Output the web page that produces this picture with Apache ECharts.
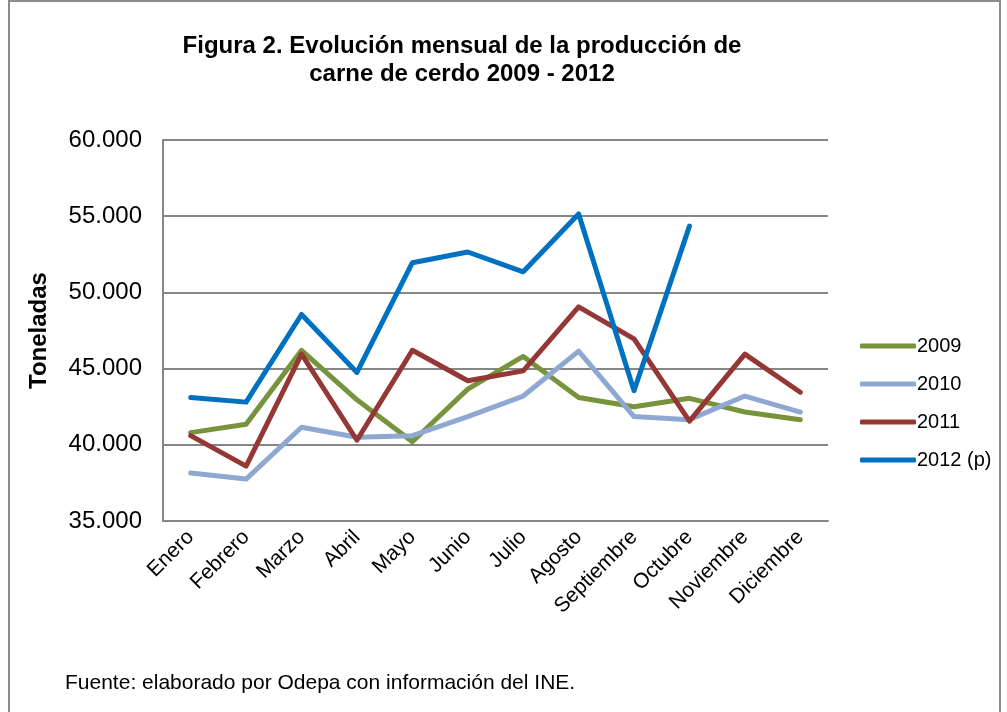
<!DOCTYPE html>
<html>
<head>
<meta charset="utf-8">
<script src="https://cdn.jsdelivr.net/npm/echarts@6/dist/echarts.min.js"></script>
<style>
  html, body { margin: 0; padding: 0; background: #fff; }
  #chart { width: 1007px; height: 712px; }
</style>
</head>
<body>
<div id="chart"></div>
<script>
const months = ['Enero', 'Febrero', 'Marzo', 'Abril', 'Mayo', 'Junio', 'Julio', 'Agosto', 'Septiembre', 'Octubre', 'Noviembre', 'Diciembre'];
const y2009 = [40800, 41350, 46200, 42950, 40200, 43650, 45800, 43100, 42500, 43050, 42150, 41650];
const y2010 = [38150, 37750, 41150, 40500, 40600, 41850, 43200, 46150, 41850, 41650, 43200, 42150];
const y2011 = [40600, 38600, 45950, 40300, 46200, 44200, 44850, 49050, 46950, 41550, 45950, 43450];
const y2012 = [43100, 42800, 48550, 44750, 51950, 52650, 51350, 55150, 43550, 54350, null, null];
const yTicks = [35000, 40000, 45000, 50000, 55000, 60000];

const font = '"Liberation Sans", Arial, sans-serif';

function fmt(v) {
  return String(v).replace(/\B(?=(\d{3})+(?!\d))/g, '.');
}

function line(name, data, color) {
  return {
    name: name,
    type: 'line',
    data: data,
    symbol: 'none',
    connectNulls: false,
    lineStyle: { color: color, width: 5, join: 'round', cap: 'round' },
    itemStyle: { color: color }
  };
}

const chart = echarts.init(document.getElementById('chart'));
chart.setOption({
  animation: false,
  backgroundColor: '#fff',
  textStyle: { fontFamily: font },
  title: {
    text: 'Figura 2. Evolución mensual de la producción de\ncarne de cerdo 2009 - 2012',
    left: 457,
    textAlign: 'center',
    top: 27,
    textStyle: { fontSize: 24, fontWeight: 'bold', color: '#000', lineHeight: 28, fontFamily: font }
  },
  legend: {
    orient: 'vertical',
    left: 855,
    top: 331,
    itemGap: 18,
    itemWidth: 56,
    itemHeight: 5,
    icon: 'roundRect',
    data: ['2009', '2010', '2011', '2012 (p)'],
    textStyle: { fontSize: 20, color: '#000', padding: [0, 0, 0, -4], fontFamily: font }
  },
  grid: { left: 163, right: 179, top: 140, bottom: 191, containLabel: false },
  xAxis: {
    type: 'category',
    data: months,
    boundaryGap: true,
    axisLine: { lineStyle: { color: '#868686', width: 2 } },
    axisTick: { show: false },
    axisLabel: { rotate: 45, fontSize: 21, color: '#000', margin: 13, interval: 0, fontFamily: font }
  },
  yAxis: {
    type: 'value',
    min: yTicks[0],
    max: yTicks[yTicks.length - 1],
    interval: 5000,
    name: 'Toneladas',
    nameLocation: 'middle',
    nameGap: 112,
    nameTextStyle: { fontSize: 24, fontWeight: 'bold', color: '#000', fontFamily: font },
    axisLine: { show: true, lineStyle: { color: '#868686', width: 2 } },
    axisTick: { show: false },
    splitLine: { lineStyle: { color: '#868686', width: 2 } },
    axisLabel: { fontSize: 24, color: '#000', margin: 21, formatter: fmt, fontFamily: font }
  },
  series: [
    line('2009', y2009, '#77933C'),
    line('2010', y2010, '#8EA8D2'),
    line('2011', y2011, '#953735'),
    line('2012 (p)', y2012, '#0070C0')
  ],
  graphic: [
    {
      type: 'rect',
      shape: { x: 9, y: 1, width: 991, height: 740 },
      style: { fill: 'none', stroke: '#8c8c8c', lineWidth: 2 },
      silent: true
    },
    {
      type: 'text',
      left: 65,
      top: 673,
      style: { text: 'Fuente: elaborado por Odepa con información del INE.', fill: '#000', font: '21px "Liberation Sans", Arial, sans-serif' }
    }
  ]
});
</script>
</body>
</html>
